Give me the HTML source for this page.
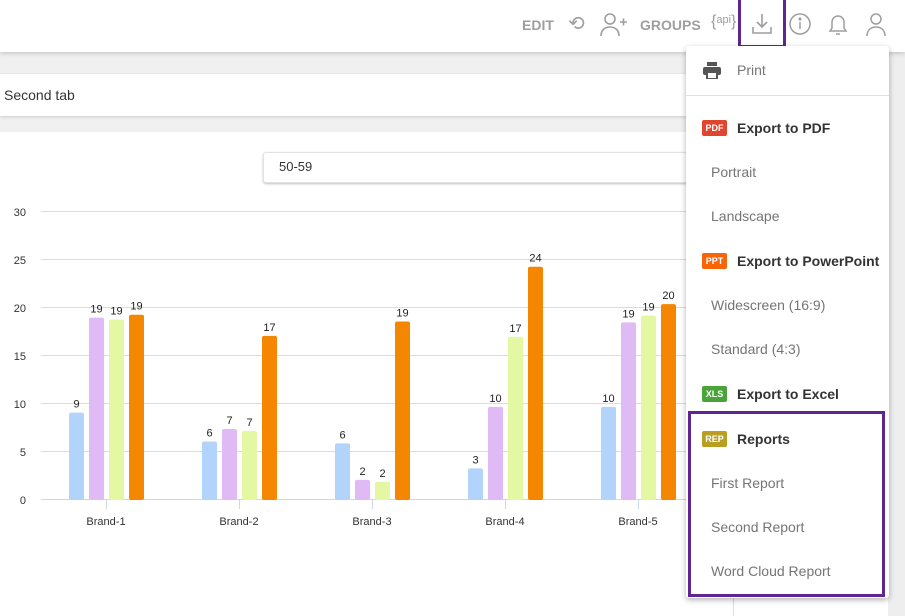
<!DOCTYPE html>
<html><head><meta charset="utf-8"><style>
*{margin:0;padding:0;box-sizing:border-box}
body{width:905px;height:616px;overflow:hidden;background:#fff;font-family:"Liberation Sans",sans-serif;position:relative}
.a{position:absolute}
.hdr{left:0;top:0;width:905px;height:52px;background:#fff;box-shadow:0 2px 4px rgba(0,0,0,.15);z-index:2}
.nav{font-size:14px;font-weight:bold;color:#9e9e9e;top:17px}
.mi{position:absolute;left:25px;font-size:14px;color:#757575}
.mh{position:absolute;left:51px;font-size:14px;font-weight:bold;color:#333}
.bd{position:absolute;left:16px;width:25px;height:16px;border-radius:2px;color:#fff;font-size:9px;font-weight:bold;text-align:center;line-height:16px}
</style></head><body>
<div class="a" style="left:0;top:52px;width:905px;height:80px;background:#f0f0f0"></div>
<div class="a" style="left:0;top:74px;width:735px;height:42px;background:#fff;box-shadow:0 1px 3px rgba(0,0,0,.15)"></div>
<div class="a" style="left:4px;top:87px;font-size:14px;color:#333">Second tab</div>
<div class="a" style="left:888px;top:52px;width:17px;height:564px;background:#eeeeee"></div>
<div class="a" style="left:733px;top:132px;width:1px;height:484px;background:#ddd"></div>
<div class="a" style="left:263px;top:152px;width:440px;height:31px;background:#fff;border:1px solid #e3e3e3;border-radius:3px;box-shadow:0 1px 2px rgba(0,0,0,.25)"></div>
<div class="a" style="left:279px;top:159px;font-size:13px;color:#333">50-59</div>
<svg class="a" style="left:0;top:200px" width="735" height="340">
<g stroke="#dcdcdc" stroke-width="1">
<line x1="41" x2="735" y1="11.5" y2="11.5"/><line x1="41" x2="735" y1="59.5" y2="59.5"/><line x1="41" x2="735" y1="107.5" y2="107.5"/><line x1="41" x2="735" y1="155.5" y2="155.5"/><line x1="41" x2="735" y1="203.5" y2="203.5"/><line x1="41" x2="735" y1="251.5" y2="251.5"/>
</g>
<line x1="41" x2="735" y1="299.5" y2="299.5" stroke="#ccd6eb"/>
<g stroke="#ccd6eb"><line x1="106.5" x2="106.5" y1="300" y2="309"/><line x1="239.5" x2="239.5" y1="300" y2="309"/><line x1="372.5" x2="372.5" y1="300" y2="309"/><line x1="505.5" x2="505.5" y1="300" y2="309"/><line x1="638.5" x2="638.5" y1="300" y2="309"/></g>
<g font-size="11" fill="#333" text-anchor="end"><text x="26" y="16">30</text><text x="26" y="64">25</text><text x="26" y="112">20</text><text x="26" y="160">15</text><text x="26" y="208">10</text><text x="26" y="256">5</text><text x="26" y="304">0</text></g>
<g font-size="11" fill="#333" text-anchor="middle"><text x="106" y="325">Brand-1</text><text x="239" y="325">Brand-2</text><text x="372" y="325">Brand-3</text><text x="505" y="325">Brand-4</text><text x="638" y="325">Brand-5</text></g>
<g id="bars"></g>
</svg>
<script>
var v=[[9.1,19,18.8,19.3,9,19,19,19],[6.1,7.4,7.2,17.1,6,7,7,17],[5.9,2.1,1.9,18.6,6,2,2,19],[3.3,9.7,17,24.3,3,10,17,24],[9.7,18.5,19.2,20.4,10,19,19,20]];
var c=['#b3d4fa','#e0baf5','#e4f7a2','#f58700'];var s='';
for(var g=0;g<5;g++){var cx=106+133*g;for(var i=0;i<4;i++){var h=v[g][i]*9.6,x=cx-37+20*i,y=300-h;
s+='<rect x="'+x+'" y="'+y+'" width="15" height="'+h+'" rx="2" fill="'+c[i]+'"/>';
s+='<text x="'+(x+7.5)+'" y="'+(y-5)+'" font-size="11" fill="#222" text-anchor="middle">'+v[g][i+4]+'</text>';}}
document.getElementById('bars').innerHTML=s;
</script>
<div class="a hdr">
<div class="a nav" style="left:522px">EDIT</div>
<div class="a" style="left:568px;top:11px;font-size:20px;color:#9e9e9e">⟲</div>
<svg class="a" style="left:600px;top:12px" width="28" height="26" fill="none" stroke="#9e9e9e" stroke-width="1.6"><circle cx="10" cy="7" r="5"/><path d="M1 24c0-6 4-9 9-9s9 3 9 9M20 10h7M23.5 6.5v7"/></svg>
<div class="a nav" style="left:640px">GROUPS</div>
<div class="a" style="left:711px;top:13px;font-size:16px;color:#9e9e9e">{<span style="font-size:11px;vertical-align:3px">api</span>}</div>
<svg class="a" style="left:750px;top:12px" width="24" height="24" fill="none" stroke="#9e9e9e" stroke-width="1.6"><path d="M12 2v13M7 10l5 5 5-5M3 15v6h18v-6"/></svg>
<svg class="a" style="left:788px;top:12px" width="24" height="24" fill="none" stroke="#9e9e9e" stroke-width="1.5"><circle cx="12" cy="12" r="10"/><path d="M12 10v7"/><circle cx="12" cy="7" r=".8" fill="#9e9e9e"/></svg>
<svg class="a" style="left:826px;top:12px" width="24" height="26" fill="none" stroke="#9e9e9e" stroke-width="1.5"><path d="M4 19h16l-2-3v-6a6 6 0 0 0-12 0v6zM10 22h4"/></svg>
<svg class="a" style="left:864px;top:11px" width="24" height="26" fill="none" stroke="#9e9e9e" stroke-width="1.5"><circle cx="12" cy="8" r="5"/><path d="M3 25c0-6 4-9 9-9s9 3 9 9"/></svg>
<div class="a" style="left:738px;top:-3px;width:48px;height:51px;border:3px solid #5f2590"></div>
</div>
<div class="a" style="left:686px;top:46px;width:203px;height:552px;background:#fff;border-radius:3px;box-shadow:0 2px 6px rgba(0,0,0,.3);z-index:3">
<svg class="a" style="left:17px;top:16px" width="18" height="17" fill="#555"><rect x="4" y="0" width="10" height="4"/><rect x="0" y="5" width="18" height="8" rx="2"/><rect x="4" y="10" width="10" height="7" fill="#fff" stroke="#555" stroke-width="2"/></svg>
<div class="mi" style="top:16px;left:51px">Print</div>
<div class="a" style="left:0;top:49px;width:203px;height:1px;background:#e0e0e0"></div>
<div class="bd" style="top:74px;background:#e0452e">PDF</div><div class="mh" style="top:74px">Export to PDF</div>
<div class="mi" style="top:118px">Portrait</div>
<div class="mi" style="top:162px">Landscape</div>
<div class="bd" style="top:207px;background:#f86408">PPT</div><div class="mh" style="top:207px">Export to PowerPoint</div>
<div class="mi" style="top:251px">Widescreen (16:9)</div>
<div class="mi" style="top:295px">Standard (4:3)</div>
<div class="bd" style="top:340px;background:#4ba43a">XLS</div><div class="mh" style="top:340px">Export to Excel</div>
<div class="bd" style="top:385px;background:#b89f22">REP</div><div class="mh" style="top:385px">Reports</div>
<div class="mi" style="top:429px">First Report</div>
<div class="mi" style="top:473px">Second Report</div>
<div class="mi" style="top:517px">Word Cloud Report</div>
<div class="a" style="left:2px;top:365px;width:197px;height:186px;border:3px solid #5f2590"></div>
</div>
</body></html>
